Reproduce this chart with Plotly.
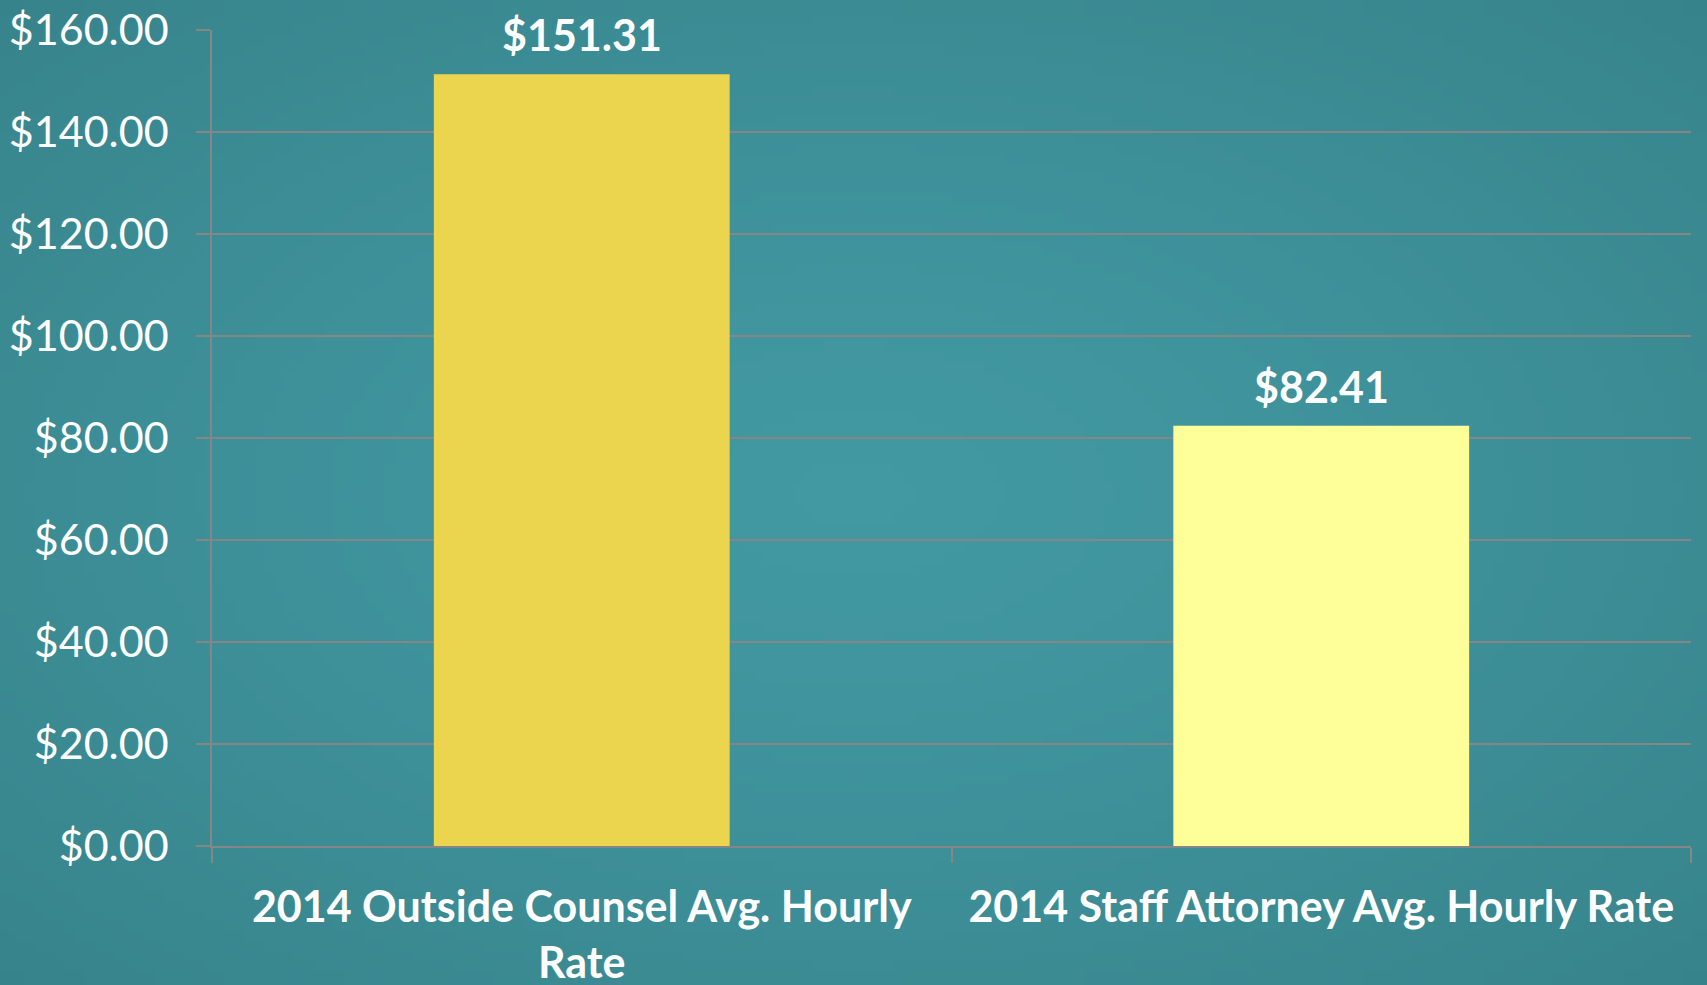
import base64
import struct
import zlib

import plotly.graph_objects as go

categories = ["2014 Outside Counsel Avg. Hourly<br>Rate", "2014 Staff Attorney Avg. Hourly Rate"]
values = [151.31, 82.41]
value_labels = ["$151.31", "$82.41"]
bar_colors = ["#EBD54E", "#FFFF99"]
y_ticks = [0, 20, 40, 60, 80, 100, 120, 140, 160]
y_tick_labels = ["$%.2f" % v for v in y_ticks]

FONT = "Lato"
BG = "#3E9099"
GRID = "#868686"
W, H = 1707, 985
ML, MR, MT, MB = 212, 16, 30, 139


def gradient_png(w, h, inner=(66, 153, 162), outer=(55, 131, 139)):
    rows = []
    for j in range(h):
        row = bytearray([0])
        dy = (j + 0.5) / h - 0.5
        for i in range(w):
            dx = (i + 0.5) / w - 0.5
            t = min(1.0, ((dx * dx + dy * dy) ** 0.5) / 0.7071)
            t = t ** 1.3
            row += bytes(int(round(a + (b - a) * t)) for a, b in zip(inner, outer))
        rows.append(bytes(row))
    raw = b"".join(rows)

    def chunk(tag, data):
        c = struct.pack(">I", len(data)) + tag + data
        return c + struct.pack(">I", zlib.crc32(tag + data) & 0xFFFFFFFF)

    png = b"\x89PNG\r\n\x1a\n"
    png += chunk(b"IHDR", struct.pack(">IIBBBBB", w, h, 8, 2, 0, 0, 0))
    png += chunk(b"IDAT", zlib.compress(raw, 9))
    png += chunk(b"IEND", b"")
    return "data:image/png;base64," + base64.b64encode(png).decode()


fig = go.Figure()
fig.add_trace(go.Bar(
    x=categories, y=values,
    marker=dict(color=bar_colors, line=dict(width=0)),
    hoverinfo="skip",
))

for c, v, t in zip(categories, values, value_labels):
    fig.add_annotation(
        x=c, y=v, text="<b>%s</b>" % t, showarrow=False,
        yanchor="bottom", yshift=12,
        font=dict(family=FONT, size=43, color="white"),
    )

pw = W - ML - MR
ph = H - MT - MB
fig.add_layout_image(
    source=gradient_png(171, 99), xref="paper", yref="paper",
    x=-ML / pw, y=1 + MT / ph, sizex=W / pw, sizey=H / ph,
    xanchor="left", yanchor="top", sizing="stretch", layer="below",
)

fig.update_layout(
    width=W, height=H,
    margin=dict(l=ML, r=MR, t=MT, b=MB),
    paper_bgcolor=BG, plot_bgcolor="rgba(0,0,0,0)",
    bargap=0.6, showlegend=False,
    font=dict(family=FONT, color="white"),
)
fig.update_xaxes(
    showgrid=False, showline=True, linecolor=GRID, linewidth=2,
    ticks="outside", tickson="boundaries", ticklen=15, tickcolor=GRID, tickwidth=1.5,
    tickfont=dict(family=FONT, size=43, color="white", weight="bold"),
    ticklabelstandoff=22, automargin=False,
)
fig.update_yaxes(
    range=[0, 160], tickvals=y_ticks, ticktext=y_tick_labels,
    showgrid=True, gridcolor=GRID, gridwidth=1.5,
    showline=True, linecolor=GRID, linewidth=1.5,
    ticks="outside", ticklen=14, tickcolor=GRID, tickwidth=1.5,
    tickfont=dict(family=FONT, size=43, color="white"),
    ticklabelstandoff=19, zeroline=False, automargin=False,
)

fig.write_html(
    "out.html",
    config={"displayModeBar": False},
    post_script="document.body.style.margin='0px';",
)
